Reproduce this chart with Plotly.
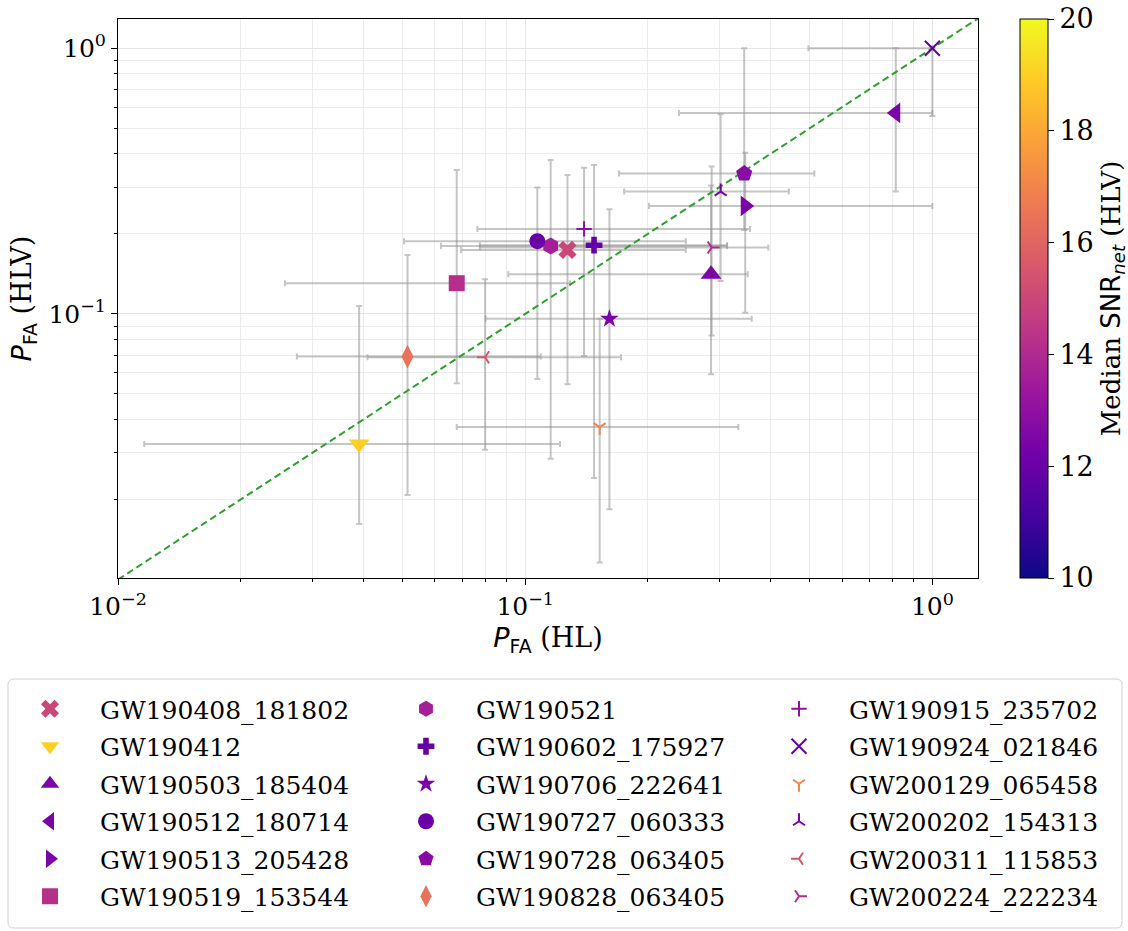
import plotly.graph_objects as go
from plotly.colors import sample_colorscale

# ---------------- data ----------------
events = ["GW190408_181802", "GW190412", "GW190503_185404", "GW190512_180714",
          "GW190513_205428", "GW190519_153544", "GW190521", "GW190602_175927",
          "GW190706_222641", "GW190727_060333", "GW190728_063405", "GW190828_063405",
          "GW190915_235702", "GW190924_021846", "GW200129_065458", "GW200202_154313",
          "GW200311_115853", "GW200224_222234"]

p_hl     = [0.127, 0.0391, 0.286, 0.813, 0.347, 0.0679, 0.1155, 0.1476, 0.161,
            0.1071, 0.345, 0.0514, 0.1395, 1.0, 0.1524, 0.302, 0.0797, 0.287]
p_hl_lo  = [0.0696, 0.0116, 0.0909, 0.2385, 0.2014, 0.0257, 0.0621, 0.0774, 0.080,
            0.0504, 0.170, 0.0275, 0.0763, 0.496, 0.0679, 0.175, 0.0410, 0.0774]
p_hl_hi  = [0.248, 0.1218, 0.352, 1.0, 1.0, 0.1288, 0.3131, 0.3131, 0.360,
            0.248, 0.513, 0.1092, 0.3565, 1.0, 0.3337, 0.444, 0.1719, 0.3954]

p_hlv    = [0.1741, 0.0324, 0.1411, 0.5707, 0.2549, 0.1305, 0.1803, 0.1814, 0.0958,
            0.1878, 0.3373, 0.0691, 0.2089, 1.0, 0.0375, 0.2886, 0.0687, 0.1779]
p_hlv_lo = [0.0544, 0.0162, 0.0593, 0.2886, 0.1011, 0.0548, 0.0285, 0.0241, 0.0184,
            0.0569, 0.2071, 0.0208, 0.0695, 0.556, 0.0116, 0.1331, 0.0308, 0.0829]
p_hlv_hi = [0.3335, 0.1072, 0.304, 1.0, 0.4045, 0.3483, 0.3799, 0.3638, 0.2478,
            0.2988, 1.0, 0.1667, 0.3553, 1.0, 0.0958, 0.5643, 0.1351, 0.3584]

snr_hlv  = [15.0, 19.0, 12.5, 12.4, 12.4, 14.2, 13.6, 11.9, 12.4,
            12.0, 12.8, 16.4, 13.0, 11.9, 17.0, 12.3, 15.5, 14.0]

snr_ticks = [10, 12, 14, 16, 18, 20]
log_tickvals = [0.01, 0.1, 1.0]
log_ticktext = ["10<sup>\u22122</sup>", "10<sup>\u22121</sup>", "10<sup>0</sup>"]

# ---------------- style ----------------
symbols = ["x", "triangle-down", "triangle-up", "triangle-left", "triangle-right",
           "square", "hexagon", "cross", "star", "circle", "pentagon", "diamond-tall",
           "cross-thin", "x-thin", "y-down", "y-up", "y-left", "y-right"]
sym_size = {"x": 16, "triangle-down": 18, "triangle-up": 18, "triangle-left": 18,
            "triangle-right": 18, "square": 16, "hexagon": 17, "cross": 14, "star": 14,
            "circle": 16, "pentagon": 17, "diamond-tall": 17, "cross-thin": 11,
            "x-thin": 15, "y-down": 10, "y-up": 10, "y-left": 10, "y-right": 10}
line_only = {"cross-thin", "x-thin", "y-down", "y-up", "y-left", "y-right"}

SERIF = "DejaVu Serif, serif"
cmin, cmax = 10, 20
colors = sample_colorscale("Plasma", [(s - cmin) / (cmax - cmin) for s in snr_hlv])

fig = go.Figure()

# error bars (drawn underneath everything)
fig.add_trace(go.Scatter(
    x=p_hl, y=p_hlv, mode="markers",
    marker=dict(size=2, opacity=0),
    error_x=dict(type="data", symmetric=False,
                 array=[h - v for h, v in zip(p_hl_hi, p_hl)],
                 arrayminus=[v - l for v, l in zip(p_hl, p_hl_lo)],
                 color="rgba(150,150,150,0.55)", thickness=2, width=3),
    error_y=dict(type="data", symmetric=False,
                 array=[h - v for h, v in zip(p_hlv_hi, p_hlv)],
                 arrayminus=[v - l for v, l in zip(p_hlv, p_hlv_lo)],
                 color="rgba(150,150,150,0.55)", thickness=2, width=3),
    showlegend=False, hoverinfo="skip"))

# diagonal y = x
diag = [0.01, 2.0]
fig.add_trace(go.Scatter(x=diag, y=diag, mode="lines",
                         line=dict(color="#2ca02c", dash="7px,4px", width=2),
                         showlegend=False, hoverinfo="skip"))

legend_ids = ["legend", "legend2", "legend3"]
for i, ev in enumerate(events):
    sym = symbols[i]
    if sym in line_only:
        marker = dict(symbol=sym, size=sym_size[sym], color=colors[i],
                      line=dict(color=colors[i], width=2))
    else:
        marker = dict(symbol=sym, size=sym_size[sym], color=colors[i],
                      line=dict(color=colors[i], width=0))
    fig.add_trace(go.Scatter(
        x=[p_hl[i]], y=[p_hlv[i]], mode="markers", name=ev, marker=marker,
        legend=legend_ids[i // 6], legendgroup=ev, showlegend=True))

# colorbar carrier
fig.add_trace(go.Scatter(
    x=[p_hl[0]], y=[p_hlv[0]], mode="markers", showlegend=False, hoverinfo="skip",
    marker=dict(size=0, opacity=0, color=[cmin], colorscale="Plasma", cmin=cmin, cmax=cmax,
                showscale=True,
                colorbar=dict(
                    x=(1020 - 118) / 860, xanchor="left", xpad=0, ypad=0,
                    y=0.5, yanchor="middle", len=1.0, lenmode="fraction",
                    thickness=28, outlinewidth=1, outlinecolor="black",
                    tickvals=snr_ticks, ticks="outside", ticklen=6, tickwidth=1,
                    tickcolor="black",
                    tickfont=dict(family=SERIF, size=27, color="black"),
                    title=dict(text='Median <span style="font-family:DejaVu Sans">SNR<sub><i>net</i></sub></span> (HLV)',
                               side="right", font=dict(family=SERIF, size=26, color="black"))))))

minor_vals = [m * 10.0 ** e for e in (-2, -1, 0) for m in range(2, 10)]
axis_common = dict(
    type="log", showline=True, linecolor="black", linewidth=1, mirror=True,
    ticks="outside", ticklen=6, tickwidth=1, tickcolor="black",
    tickvals=log_tickvals, ticktext=log_ticktext,
    tickfont=dict(family=SERIF, size=25, color="black"),
    showgrid=True, gridcolor="#e6e6e6", gridwidth=1, zeroline=False,
    minor=dict(tickvals=minor_vals, ticks="outside", ticklen=3, tickcolor="black",
               tickwidth=1, showgrid=True, gridcolor="#ececec", gridwidth=1),
)

fig.update_xaxes(**axis_common, range=[-2.0, 0.112],
                 title=dict(text='<span style="font-family:DejaVu Sans"><i>P</i><sub>FA</sub></span> (HL)',
                            font=dict(family=SERIF, size=27, color="black"), standoff=8))
fig.update_yaxes(**axis_common, range=[-1.994, 0.110],
                 title=dict(text='<span style="font-family:DejaVu Sans"><i>P</i><sub>FA</sub></span> (HLV)',
                            font=dict(family=SERIF, size=27, color="black"), standoff=8))

W, H = 860, 559
leg_common = dict(font=dict(family=SERIF, size=25, color="black"),
                  bgcolor="rgba(0,0,0,0)", borderwidth=0, itemwidth=90,
                  tracegroupgap=2, traceorder="grouped", itemsizing="trace",
                  xanchor="left", yanchor="top", y=(578 - 686) / H,
                  orientation="v", itemclick=False, itemdoubleclick=False)
fig.update_layout(
    legend=dict(**leg_common, x=(0 - 118) / W),
    legend2=dict(**leg_common, x=(376 - 118) / W),
    legend3=dict(**leg_common, x=(749 - 118) / W),
)

# legend frame (rounded rectangle)
x0, x1 = (8 - 118) / W, (1122 - 118) / W
y0, y1 = (578 - 679) / H, (578 - 928) / H
rx, ry = 6 / W, 6 / H
path = (f"M{x0+rx},{y0} L{x1-rx},{y0} Q{x1},{y0} {x1},{y0-ry} "
        f"L{x1},{y1+ry} Q{x1},{y1} {x1-rx},{y1} L{x0+rx},{y1} Q{x0},{y1} {x0},{y1+ry} "
        f"L{x0},{y0-ry} Q{x0},{y0} {x0+rx},{y0} Z")
fig.add_shape(type="path", path=path, xref="paper", yref="paper",
              line=dict(color="#d0d0d0", width=1), fillcolor="rgba(255,255,255,0.8)",
              layer="below")

fig.update_layout(
    width=1128, height=931,
    margin=dict(l=118, r=150, t=19, b=353, autoexpand=False),
    paper_bgcolor="white", plot_bgcolor="white",
    font=dict(family=SERIF, color="black"),
    showlegend=True,
)

fig.write_html("out.html")
